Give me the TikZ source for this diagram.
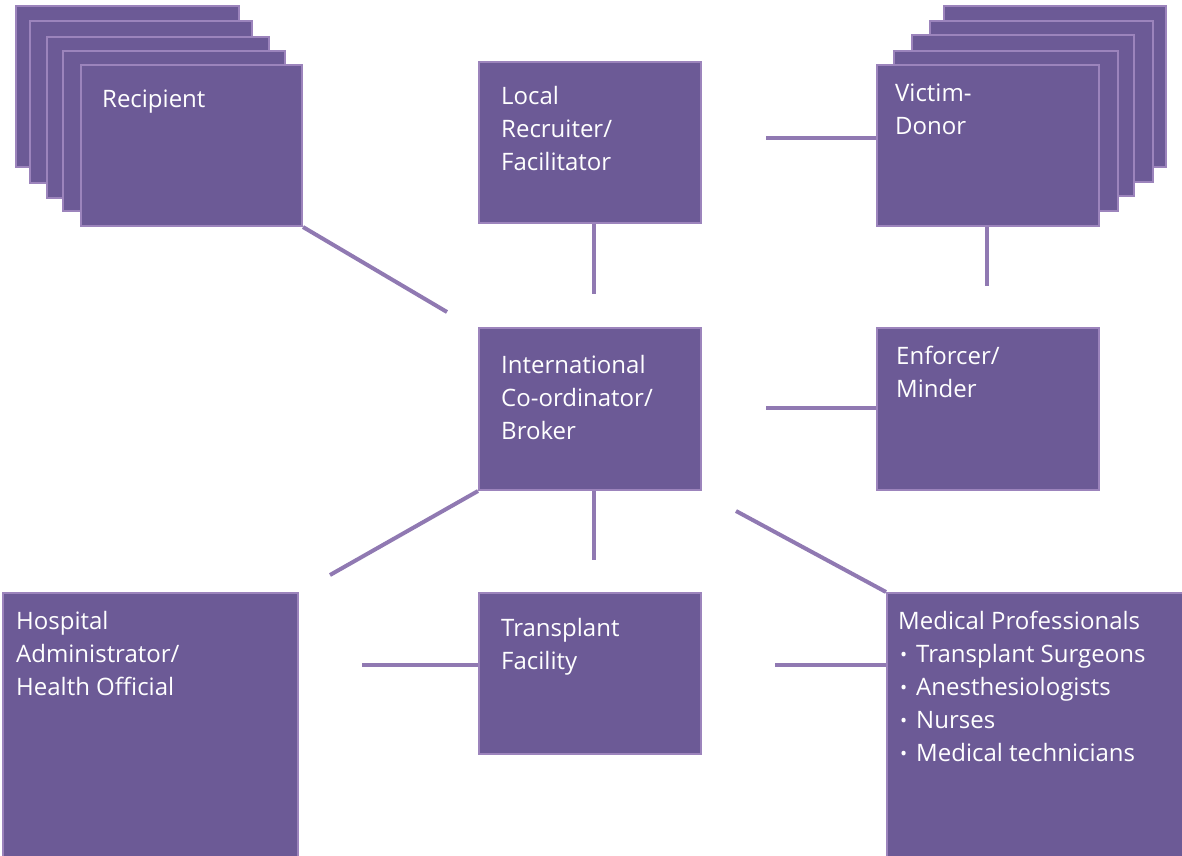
\documentclass[tikz,border=0pt]{standalone}
\usepackage{fontspec}
\setmainfont{Open Sans}
\definecolor{boxfill}{HTML}{6C5A96}
\definecolor{boxline}{HTML}{9C84BC}
\definecolor{conn}{HTML}{9079B2}
\newcommand{\bul}{\makebox[18pt][l]{\hspace{2pt}\raisebox{0.5pt}{\fontsize{19}{19}\selectfont\textbullet}}}
\begin{document}
\begin{tikzpicture}[x=1pt,y=-1pt,
  card/.style={draw=boxline,fill=boxfill,line width=2pt,anchor=north west,inner sep=0pt},
  lbl/.style={text=white,anchor=north west,align=left,inner sep=0pt,font=\fontsize{24}{33}\selectfont},
  link/.style={draw=conn,line width=4pt}]
\useasboundingbox (0,0) rectangle (1182,855);
% Recipient stack
\node[card,minimum width=223pt,minimum height=161pt] (r1) at (15,5) {};
\node[card,minimum width=222pt,minimum height=162pt] (r2) at (29,20) {};
\node[card,minimum width=222pt,minimum height=161pt] (r3) at (46,36) {};
\node[card,minimum width=222pt,minimum height=160pt] (r4) at (62,50) {};
\node[card,minimum width=221pt,minimum height=161pt] (rec) at (80,64) {};
\node[lbl] (recT) at (102,84) {\strut Recipient};
% Victim stack
\node[card,minimum width=222pt,minimum height=161pt] (v4) at (943,5) {};
\node[card,minimum width=223pt,minimum height=161pt] (v3) at (929,20) {};
\node[card,minimum width=222pt,minimum height=161pt] (v2) at (911,34) {};
\node[card,minimum width=224pt,minimum height=160pt] (v1) at (893,50) {};
\node[card,minimum width=222pt,minimum height=161pt] (vic) at (876,64) {};
\node[lbl] (vicT) at (895,78) {\strut Victim-\\Donor};
% Local recruiter
\node[card,minimum width=222pt,minimum height=161pt] (loc) at (478,61) {};
\node[lbl] (locT) at (501,81) {\strut Local\\Recruiter/\\Facilitator};
% International
\node[card,minimum width=222pt,minimum height=162pt] (int) at (478,327) {};
\node[lbl] (intT) at (501,350) {\strut International\\Co-ordinator/\\Broker};
% Enforcer
\node[card,minimum width=222pt,minimum height=162pt] (enf) at (876,327) {};
\node[lbl] (enfT) at (896,341) {\strut Enforcer/\\Minder};
% Transplant facility
\node[card,minimum width=222pt,minimum height=161pt] (tf) at (478,592) {};
\node[lbl] (tfT) at (501,613) {\strut Transplant\\Facility};
% Hospital
\node[card,minimum width=295pt,minimum height=270pt] (hos) at (2,592) {};
\node[lbl] (hosT) at (16,606) {\strut Hospital\\Administrator/\\Health Official};
% Medical
\node[card,minimum width=296pt,minimum height=270pt] (med) at (886,592) {};
\node[lbl] (medT) at (898,606) {\strut Medical Professionals\\
\bul Transplant Surgeons\\
\bul Anesthesiologists\\
\bul Nurses\\
\bul Medical technicians};
% connectors
\coordinate (cRec) at (447,312);
\coordinate (cLoc) at (594,294);
\coordinate (cVicH) at (766,138);
\coordinate (cVicV) at (987,286);
\coordinate (cEnf) at (766,408);
\coordinate (cHos) at (330,575);
\coordinate (cTf) at (594,560);
\coordinate (cMedD) at (736,511);
\coordinate (cHosTf) at (362,665);
\coordinate (cMed) at (775,665);
\draw[link] (rec.south east) -- (cRec);
\draw[link] (cLoc |- loc.south) -- (cLoc);
\draw[link] (cVicH) -- (cVicH -| vic.west);
\draw[link] (cVicV |- vic.south) -- (cVicV);
\draw[link] (cEnf) -- (cEnf -| enf.west);
\draw[link] (int.south west) -- (cHos);
\draw[link] (cTf |- int.south) -- (cTf);
\draw[link] (cMedD) -- (med.north west);
\draw[link] (cHosTf) -- (cHosTf -| tf.west);
\draw[link] (cMed) -- (cMed -| med.west);
\end{tikzpicture}
\end{document}
